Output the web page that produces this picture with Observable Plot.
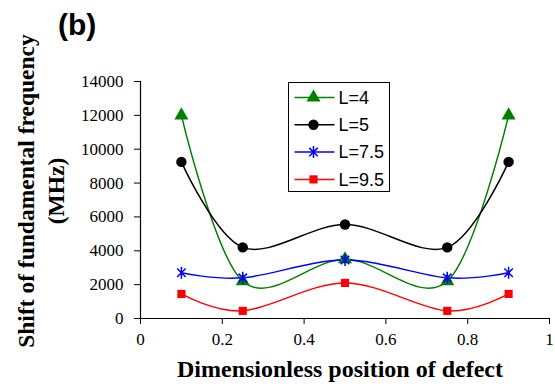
<!DOCTYPE html>
<html><head><meta charset="utf-8">
<script src="https://cdn.jsdelivr.net/npm/d3@7"></script>
<script src="https://cdn.jsdelivr.net/npm/@observablehq/plot@0.6"></script>
<style>
html,body{margin:0;padding:0;background:#fff;}
#wrap{position:relative;width:555px;height:386px;overflow:hidden;}
#wrap svg g[aria-label$="tick label"] text{font-family:'Liberation Serif',serif !important;font-size:17px !important;}
</style></head><body><div id="wrap"></div>
<script>
// ---- data ----
const positions = [0.1, 0.25, 0.5, 0.75, 0.9];
const seriesNames = ["L=4", "L=5", "L=7.5", "L=9.5"];
const L4  = [12000, 2200, 3500, 2200, 12000];
const L5  = [9250, 4200, 5550, 4200, 9250];
const L75 = [2700, 2400, 3450, 2400, 2700];
const L95 = [1450, 450, 2100, 450, 1450];
const yTicks = [0, 2000, 4000, 6000, 8000, 10000, 12000, 14000];
const xTicks = [0, 0.2, 0.4, 0.6, 0.8, 1];
const xTickLabels = ["0", "0.2", "0.4", "0.6", "0.8", "1"];

const SERIF = "'Liberation Serif'";
const SANS = "'Liberation Sans'";

const star = {
  draw(ctx, size) {
    const r = Math.sqrt(size / Math.PI);
    const d = r * Math.SQRT1_2;
    ctx.moveTo(0, -r); ctx.lineTo(0, r);
    ctx.moveTo(-d, -d); ctx.lineTo(d, d);
    ctx.moveTo(-d, d); ctx.lineTo(d, -d);
  }
};

const styles = [
  {values: L4,  color: "#008000", symbol: "triangle", r: 5.2, filled: true},
  {values: L5,  color: "#000000", symbol: "circle",   r: 5.2, filled: true},
  {values: L75, color: "#0000ff", symbol: star,       r: 6,   filled: false},
  {values: L95, color: "#ff0000", symbol: "square",   r: 4.6, filled: true}
];

const marks = [];
styles.forEach((s, i) => {
  const rows = positions.map((x, j) => ({x, y: s.values[j], series: seriesNames[i]}));
  marks.push(Plot.line(rows, {x: "x", y: "y", curve: "cardinal", stroke: s.color, strokeWidth: 1.5}));
});
styles.forEach((s, i) => {
  const rows = positions.map((x, j) => ({x, y: s.values[j], series: seriesNames[i]}));
  marks.push(Plot.dot(rows, s.filled
    ? {x: "x", y: "y", symbol: () => s.symbol, r: s.r, fill: s.color, stroke: "none"}
    : {x: "x", y: "y", symbol: () => s.symbol, r: s.r, stroke: s.color, strokeWidth: 1.5, fill: "none"}));
});

const chart = Plot.plot({
  width: 555, height: 386,
  marginLeft: 140, marginRight: 6, marginTop: 81, marginBottom: 68,
  style: {fontFamily: SERIF, fontSize: "17px", color: "#000", background: "#fff", overflow: "visible"},
  symbol: {type: "identity"},
  x: {domain: [0, 1]},
  y: {domain: [0, 14000]},
  marks: [
    Plot.axisY({ticks: yTicks, tickSize: 6, tickPadding: 11, label: null, tickFormat: d => String(d), stroke: "#000", fontSize: 17}),
    Plot.axisX({ticks: xTicks, tickSize: 6, tickPadding: 8, label: null, tickFormat: (d, i) => xTickLabels[i], stroke: "#000", fontSize: 17}),
    Plot.ruleY([0], {stroke: "#000", strokeWidth: 1.2}),
    Plot.ruleX([0], {stroke: "#000", strokeWidth: 1.2}),
    ...marks
  ]
});
document.getElementById("wrap").appendChild(chart);

const svg = d3.select(chart);
svg.selectAll("text").style("font-family", SERIF).style("font-size", "17px").attr("fill", "#000");

svg.append("text").attr("x", 58).attr("y", 35).attr("text-anchor", "start")
  .style("font-family", SANS).attr("font-weight", "bold").style("font-size", "30px")
  .text("(b)");
const yl = svg.append("g").attr("transform", "translate(0,191) rotate(-90)")
  .style("font-family", SERIF).attr("font-weight", "bold").style("font-size", "23.5px").attr("text-anchor", "middle");
yl.append("text").attr("x", 0).attr("y", 34).text("Shift of fundamental frequency");
yl.append("text").attr("x", 0).attr("y", 64).text("(MHz)");
svg.append("text").attr("x", 340).attr("y", 377).attr("text-anchor", "middle")
  .style("font-family", SERIF).attr("font-weight", "bold").style("font-size", "24px")
  .text("Dimensionless position of defect");

const lg = svg.append("g").attr("transform", "translate(288.5,82.5)");
lg.append("rect").attr("width", 101).attr("height", 109).attr("fill", "#fff").attr("stroke", "#000").attr("stroke-width", 1);
styles.forEach((s, i) => {
  const y = 15 + i * 27.3;
  lg.append("line").attr("x1", 6).attr("x2", 46).attr("y1", y).attr("y2", y).attr("stroke", s.color).attr("stroke-width", 1.5);
  const sym = typeof s.symbol === "string" ? {triangle: d3.symbolTriangle, circle: d3.symbolCircle, square: d3.symbolSquare}[s.symbol] : s.symbol;
  const p = lg.append("path").attr("transform", `translate(25,${y})`).attr("d", d3.symbol(sym, Math.PI * s.r * s.r)());
  if (s.filled) p.attr("fill", s.color); else p.attr("fill", "none").attr("stroke", s.color).attr("stroke-width", 1.5);
  lg.append("text").attr("x", 50).attr("y", y).attr("dy", "0.35em").attr("text-anchor", "start")
    .style("font-family", SANS).style("font-size", "18px").text(seriesNames[i]);
});
</script></body></html>
